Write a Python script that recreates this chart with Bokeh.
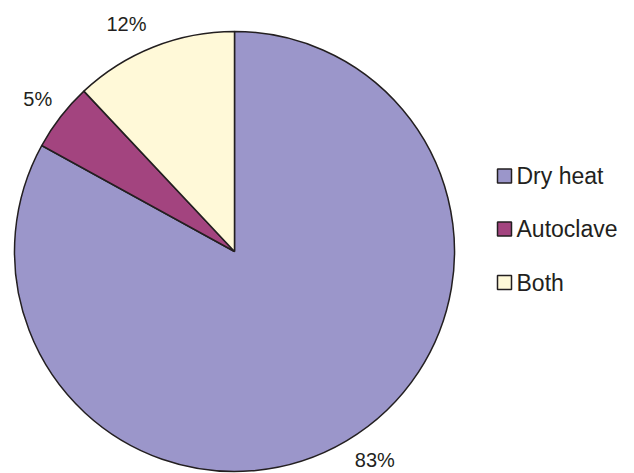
import math
from bokeh.plotting import figure
from bokeh.models import Range1d, ColumnDataSource
from bokeh.core.properties import value
from bokeh.embed import file_html
from bokeh.resources import INLINE

categories = ["Dry heat", "Autoclave", "Both"]
percents = [83, 5, 12]
colors = ["#9B96CA", "#A3447F", "#FFF9D8"]
pct_labels = ["83%", "5%", "12%"]

W, H = 634, 473
p = figure(width=W, height=H, output_backend="svg", toolbar_location=None,
           x_range=Range1d(0, W), y_range=Range1d(0, H), min_border=0)
p.axis.visible = False
p.grid.visible = False
p.outline_line_color = None
p.background_fill_color = "white"

cx, cy, R = 234, H - 251, 220
font = value("Liberation Sans")

# label placement tweaks (degrees offset from slice middle, radius)
lab_shift = [3.4, 0.0, 3.8]
lab_rad = [251, 249, 252]

starts, ends, lx, ly = [], [], [], []
a = math.pi / 2
for i, v in enumerate(percents):
    sweep = v / 100 * 2 * math.pi
    starts.append(a)
    ends.append(a - sweep)
    mid = a - sweep / 2 + math.radians(lab_shift[i])
    lx.append(cx + lab_rad[i] * math.cos(mid))
    ly.append(cy + lab_rad[i] * math.sin(mid))
    a -= sweep

src = ColumnDataSource(dict(start=starts, end=ends, color=colors, lx=lx, ly=ly, lab=pct_labels))
p.wedge(x=cx, y=cy, radius=R, start_angle="start", end_angle="end", direction="clock",
        fill_color="color", line_color="#231F20", line_width=1.5, source=src)
p.text(x="lx", y="ly", text="lab", source=src, text_font=font, text_font_size="20px",
       text_align="center", text_baseline="middle", text_color="#231F20")

# legend
leg_y = [H - 175.5, H - 228.5, H - 282]
lsrc = ColumnDataSource(dict(x=[504] * 3, y=leg_y, color=colors, name=categories, tx=[516] * 3))
p.rect(x="x", y="y", width=14, height=14, fill_color="color", line_color="#231F20",
       line_width=1.5, source=lsrc)
p.text(x="tx", y="y", text="name", source=lsrc, text_font=font, text_font_size="23px",
       text_align="left", text_baseline="middle", text_color="#231F20")

open("out.html", "w").write(file_html(p, INLINE))
